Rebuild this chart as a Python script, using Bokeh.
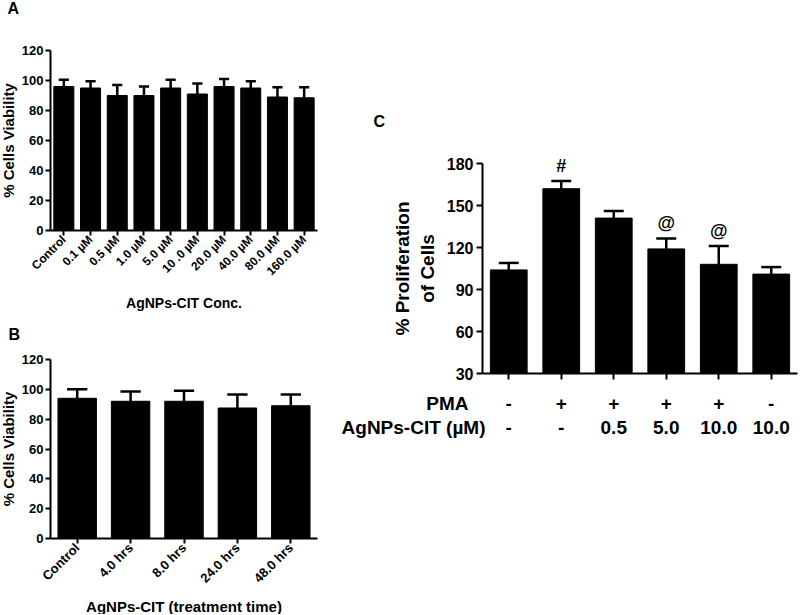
import numpy as np
from math import pi
from bokeh.plotting import figure
from bokeh.layouts import row, column
from bokeh.models import Range1d, FixedTicker, ColumnDataSource
from bokeh.core.properties import value
from bokeh.embed import file_html
from bokeh.resources import INLINE

FONT = "Liberation Sans"

# ---------------- data ----------------
a_labels = ["Control", "0.1 µM", "0.5 µM", "1.0 µM", "5.0 µM", "10 .0 µM",
            "20.0 µM", "40.0 µM", "80.0 µM", "160.0 µM"]
a_means = [96, 95, 90, 90, 95, 91, 96, 95, 89, 88.5]
a_errs = [4.5, 4.5, 7, 6, 5.5, 7, 5, 4.5, 6.5, 7]
a_yticks = [0, 20, 40, 60, 80, 100, 120]

b_labels = ["Control", "4.0 hrs", "8.0 hrs", "24.0 hrs", "48.0 hrs"]
b_means = [94, 92, 92, 87.5, 89]
b_errs = [6, 6.5, 7, 9, 7.5]
b_yticks = [0, 20, 40, 60, 80, 100, 120]

c_means = [104, 162, 141, 119, 108, 101]
c_errs = [5, 5.5, 5, 7.5, 13, 5]
c_pma = ["-", "+", "+", "+", "+", "-"]
c_agnps = ["-", "-", "0.5", "5.0", "10.0", "10.0"]
c_marks = ["", "#", "", "@", "@", ""]
c_row_titles = ["PMA", "AgNPs-CIT (µM)"]
c_yticks = [30, 60, 90, 120, 150, 180]


def add_text(p, xs, ys, texts, size, align="center", baseline="middle", dx=0, dy=0):
    p.text(x=xs, y=ys, text=texts, text_font=value(FONT), text_font_style="bold",
           text_font_size=size, text_align=align, text_baseline=baseline,
           x_offset=dx, y_offset=dy, text_color="black")


def bar_panel(means, errs, yticks, W, H, frame, bar_w, tick_font, ytitle, xtitle,
              xlabels=None, xlab_font="12px", xtitle_standoff=10, ytitle_standoff=3,
              ytitle_font="15px", xtitle_font="15px", tick_len=5):
    n = len(means)
    idx = list(range(n))
    fl, fr, ft, fb = frame          # pixel box of the data area inside the canvas
    y0, y1 = yticks[0], yticks[-1]
    sx = (fr - fl) / n
    sy = (fb - ft) / (y1 - y0)
    p = figure(width=W, height=H, output_backend="svg", toolbar_location=None,
               x_range=Range1d(-0.5 - fl / sx, n - 0.5 + (W - fr) / sx),
               y_range=Range1d(y0 - (H - fb) / sy, y1 + ft / sy),
               min_border=0)
    p.outline_line_color = None
    p.grid.visible = False
    p.background_fill_color = "white"
    p.border_fill_color = "white"

    tops = [m + e for m, e in zip(means, errs)]
    src = ColumnDataSource(dict(x=idx, top=means, err_top=tops,
                                cl=[i - 0.19 for i in idx], cr=[i + 0.19 for i in idx]))
    p.vbar(x="x", top="top", bottom=y0, width=bar_w, source=src,
           fill_color="black", line_color="black")
    p.segment(x0="x", y0="top", x1="x", y1="err_top", source=src,
              line_color="black", line_width=2.5)
    p.segment(x0="cl", y0="err_top", x1="cr", y1="err_top", source=src,
              line_color="black", line_width=2.5)

    for ax in (p.xaxis[0], p.yaxis[0]):
        ax.axis_line_width = 2
        ax.major_tick_line_width = 2
        ax.major_tick_out = tick_len
        ax.major_tick_in = 0
        ax.minor_tick_out = 0
        ax.minor_tick_in = 0
        ax.major_label_text_font = FONT
        ax.major_label_text_font_style = "bold"
        ax.axis_label_text_font = FONT
        ax.axis_label_text_font_style = "bold"
        ax.axis_label_text_color = "black"
        ax.major_label_text_color = "black"
        ax.axis_line_color = "black"
        ax.major_tick_line_color = "black"

    p.xaxis.fixed_location = y0
    p.xaxis.bounds = (-0.5, n - 0.5)
    p.yaxis.fixed_location = -0.5
    p.yaxis.bounds = (y0, y1)

    p.yaxis.ticker = FixedTicker(ticks=yticks)
    p.yaxis.major_label_text_font_size = tick_font
    p.yaxis.major_label_standoff = 2
    p.yaxis.axis_label = ytitle
    p.yaxis.axis_label_text_font_size = ytitle_font
    p.yaxis.axis_label_standoff = ytitle_standoff

    p.xaxis.ticker = FixedTicker(ticks=idx)
    if xlabels is not None:
        p.xaxis.major_label_overrides = {i: lab for i, lab in enumerate(xlabels)}
        p.xaxis.major_label_orientation = pi / 4
        p.xaxis.major_label_text_font_size = xlab_font
        p.xaxis.major_label_standoff = 2
    else:
        p.xaxis.major_label_overrides = {i: "" for i in idx}
        p.xaxis.major_label_text_font_size = "1px"
        p.xaxis.major_label_standoff = 0
    if xtitle:
        p.xaxis.axis_label = xtitle
        p.xaxis.axis_label_text_font_size = xtitle_font
        p.xaxis.axis_label_standoff = xtitle_standoff
    return p


def panel_letter(p, letter, dx, dy, size="16px"):
    add_text(p, [p.x_range.start], [p.y_range.end], [letter], size,
             align="left", baseline="middle", dx=dx, dy=dy)


# ---------------- panel A ----------------
pa = bar_panel(a_means, a_errs, a_yticks, 340, 318, (50, 317, 50, 230), 0.75,
               "13px", "% Cells Viability", "AgNPs-CIT Conc.", xlabels=a_labels,
               xlab_font="12px", xtitle_standoff=9, xtitle_font="14px", ytitle_standoff=2)
panel_letter(pa, "A", 7, 8)

# ---------------- panel B ----------------
pb = bar_panel(b_means, b_errs, b_yticks, 340, 296, (50, 317, 41, 220), 0.72,
               "13px", "% Cells Viability", "AgNPs-CIT (treatment time)", xlabels=b_labels,
               xlab_font="13px", xtitle_standoff=4, xtitle_font="15px", ytitle_standoff=2)
panel_letter(pb, "B", 8, 16)

# ---------------- panel C ----------------
pc = bar_panel(c_means, c_errs, c_yticks, 460, 614, (142, 457, 163, 373), 0.70,
               "16px", "% Proliferation\nof Cells", None, xlabels=None,
               ytitle_standoff=6, ytitle_font="19px", tick_len=6)
pc.yaxis.major_label_standoff = 3
panel_letter(pc, "C", 33, 121)

c_idx = list(range(len(c_means)))
y_base = c_yticks[0]
add_text(pc, c_idx, [m + e for m, e in zip(c_means, c_errs)], c_marks, "18px",
         baseline="bottom", dy=-5)
add_text(pc, c_idx, [y_base] * len(c_idx), c_pma, "19px", dy=30)
add_text(pc, c_idx, [y_base] * len(c_idx), c_agnps, "19px", dy=54)
add_text(pc, [-0.5], [y_base], [c_row_titles[0]], "19px", align="right", dx=-14, dy=30)
add_text(pc, [-0.5], [y_base], [c_row_titles[1]], "19px", align="right", dx=3, dy=54)

layout = row(column(pa, pb), pc)
open("out.html", "w").write(file_html(layout, INLINE))
